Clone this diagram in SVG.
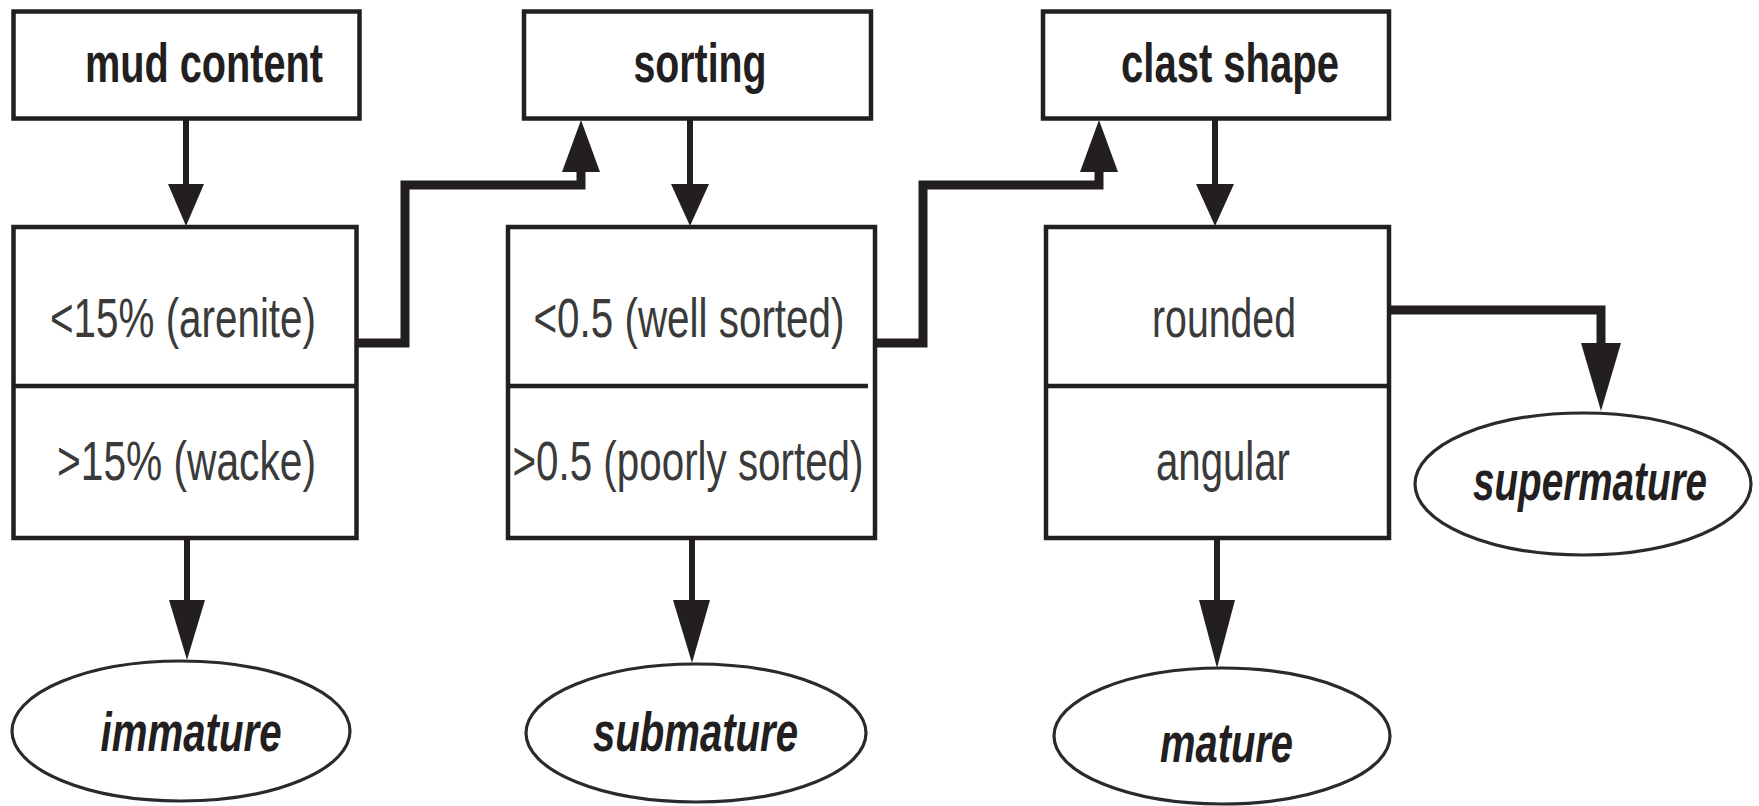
<svg xmlns="http://www.w3.org/2000/svg" width="1759" height="806" viewBox="0 0 1759 806">
<style>
.box{fill:#fff;stroke:#231f20;stroke-width:4.5}
.div{stroke:#231f20;stroke-width:4.5}
.ell{fill:#fff;stroke:#2a2a2a;stroke-width:3.2}
.ln{fill:none;stroke:#231f20;stroke-width:6}
.el{fill:none;stroke:#231f20;stroke-width:9}
.ah{fill:#231f20;stroke:none}
.hd{font-family:"Liberation Sans",Arial,sans-serif;font-weight:bold;font-size:55px;fill:#231f20;text-anchor:middle}
.op{font-family:"Liberation Sans",Arial,sans-serif;font-size:55px;fill:#3a3a3a;text-anchor:middle}
.lb{font-family:"Liberation Sans",Arial,sans-serif;font-weight:bold;font-style:italic;font-size:55px;fill:#231f20;text-anchor:middle}
</style>
<rect width="1759" height="806" fill="#fff"/>
<g id="connectors">
<line class="ln" x1="186" y1="119" x2="186" y2="190"/>
<polygon class="ah" points="168,184 204,184 186,226"/>
<path class="el" d="M358,343 H405 V185 H581 V168"/>
<polygon class="ah" points="562,172 600,172 581,120"/>
<line class="ln" x1="690" y1="119" x2="690" y2="190"/>
<polygon class="ah" points="671,184 709,184 690,226"/>
<path class="el" d="M876,343 H923 V185 H1099 V168"/>
<polygon class="ah" points="1080,172 1118,172 1099,120"/>
<line class="ln" x1="1215" y1="119" x2="1215" y2="190"/>
<polygon class="ah" points="1196,184 1234,184 1215,226"/>
<path class="el" d="M1390,310 H1601 V348"/>
<polygon class="ah" points="1581,343 1621,343 1601,411"/>
<line class="ln" x1="187" y1="538" x2="187" y2="605"/>
<polygon class="ah" points="169,600 205,600 187,660"/>
<line class="ln" x1="692" y1="538" x2="692" y2="605"/>
<polygon class="ah" points="673,600 710,600 692,663"/>
<line class="ln" x1="1217" y1="538" x2="1217" y2="605"/>
<polygon class="ah" points="1199,600 1235,600 1217,668"/>
</g>
<g id="mud-content">
<rect class="box" x="13.5" y="11.5" width="346" height="107"/>
<text class="hd" x="204" y="82" textLength="238" lengthAdjust="spacingAndGlyphs">mud content</text>
</g>
<g id="sorting">
<rect class="box" x="524" y="11.5" width="347" height="107"/>
<text class="hd" x="700" y="82" textLength="133" lengthAdjust="spacingAndGlyphs">sorting</text>
</g>
<g id="clast-shape">
<rect class="box" x="1043" y="11.5" width="346" height="107"/>
<text class="hd" x="1230" y="82" textLength="218" lengthAdjust="spacingAndGlyphs">clast shape</text>
</g>
<g id="mud-options">
<rect class="box" x="13.5" y="227" width="343" height="311"/>
<line class="div" x1="13.5" y1="386" x2="356.5" y2="386"/>
<text class="op" x="183" y="337" textLength="266" lengthAdjust="spacingAndGlyphs">&lt;15% (arenite)</text>
<text class="op" x="186.5" y="480" textLength="259" lengthAdjust="spacingAndGlyphs">&gt;15% (wacke)</text>
</g>
<g id="sorting-options">
<rect class="box" x="508" y="227" width="367" height="311"/>
<line class="div" x1="508" y1="386" x2="868" y2="386"/>
<text class="op" x="689" y="337" textLength="311" lengthAdjust="spacingAndGlyphs">&lt;0.5 (well sorted)</text>
<text class="op" x="688" y="480" textLength="351" lengthAdjust="spacingAndGlyphs">&gt;0.5 (poorly sorted)</text>
</g>
<g id="shape-options">
<rect class="box" x="1046" y="227" width="343" height="311"/>
<line class="div" x1="1046" y1="386" x2="1389" y2="386"/>
<text class="op" x="1224" y="337" textLength="144" lengthAdjust="spacingAndGlyphs">rounded</text>
<text class="op" x="1223" y="480" textLength="134" lengthAdjust="spacingAndGlyphs">angular</text>
</g>
<g id="immature">
<ellipse class="ell" cx="181" cy="731" rx="169" ry="70"/>
<text class="lb" x="191" y="751" textLength="181" lengthAdjust="spacingAndGlyphs">immature</text>
</g>
<g id="submature">
<ellipse class="ell" cx="696" cy="733" rx="170" ry="69"/>
<text class="lb" x="695.5" y="751" textLength="205" lengthAdjust="spacingAndGlyphs">submature</text>
</g>
<g id="mature">
<ellipse class="ell" cx="1222" cy="736" rx="168" ry="68"/>
<text class="lb" x="1226.5" y="762" textLength="133" lengthAdjust="spacingAndGlyphs">mature</text>
</g>
<g id="supermature">
<ellipse class="ell" cx="1583" cy="484" rx="168" ry="71"/>
<text class="lb" x="1590" y="500" textLength="234" lengthAdjust="spacingAndGlyphs">supermature</text>
</g>
</svg>
